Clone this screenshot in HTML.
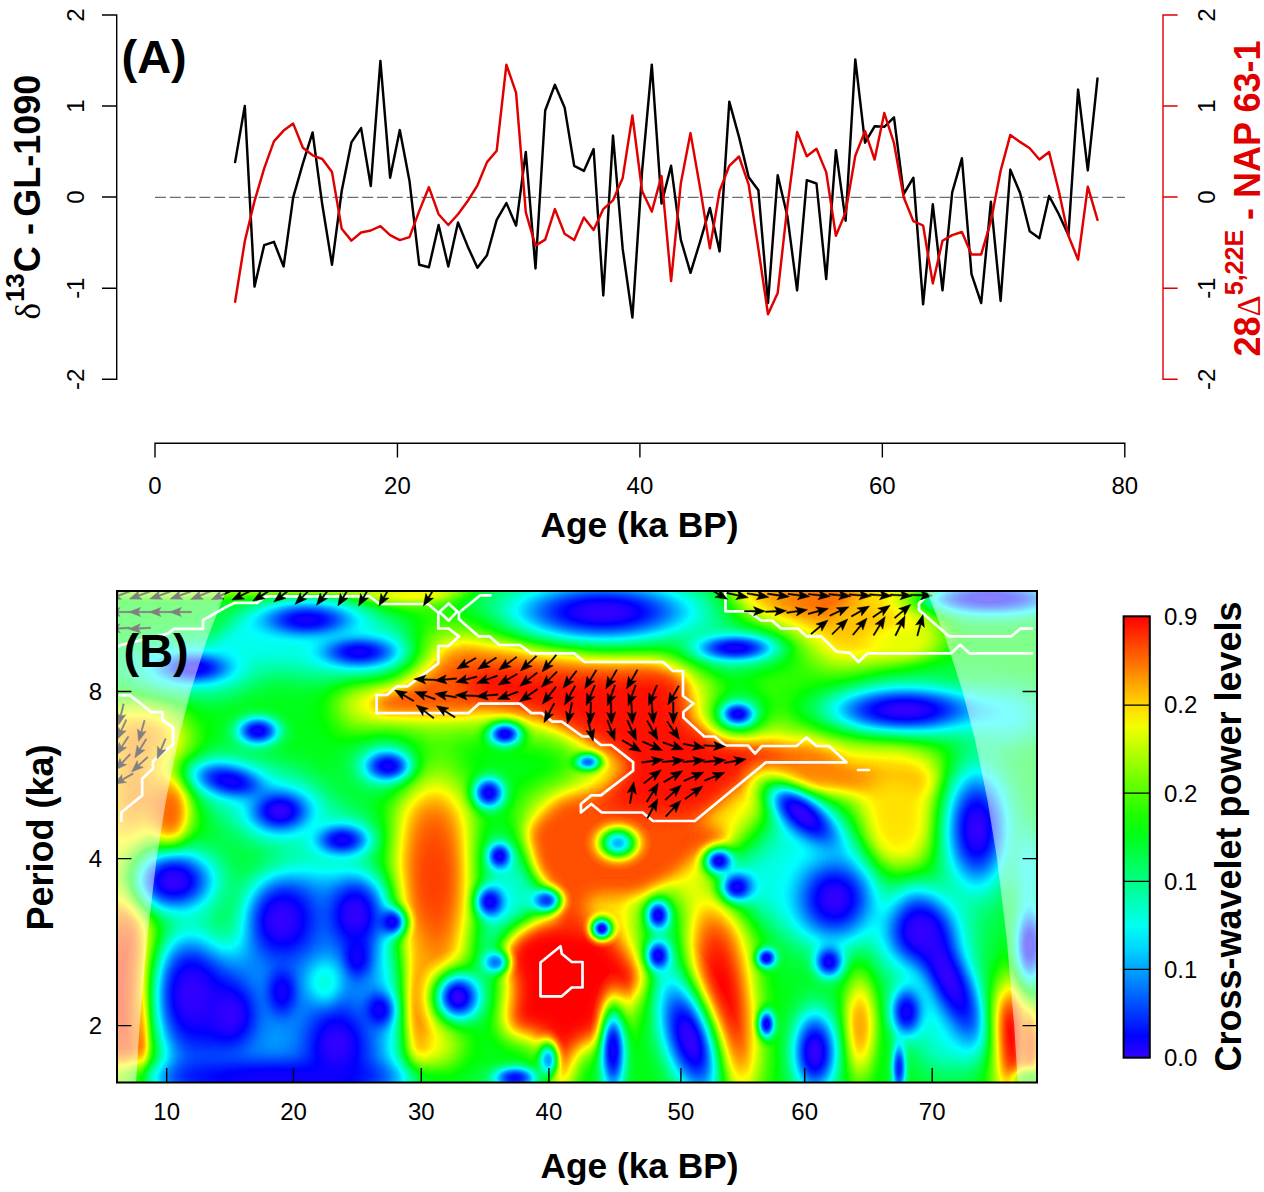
<!DOCTYPE html>
<html lang="en"><head><meta charset="utf-8"><title>Cross-wavelet figure</title>
<style>html,body{margin:0;padding:0;background:#fff}svg{display:block}text{font-family:"Liberation Sans", Arial, Helvetica, sans-serif}</style></head><body>
<svg width="1264" height="1192" viewBox="0 0 1264 1192">
<defs>
<filter id="cm" filterUnits="userSpaceOnUse" x="0" y="500" width="1264" height="692" color-interpolation-filters="sRGB"><feComponentTransfer><feFuncR type="table" tableValues="0.200 0.000 0.000 0.000 0.000 0.000 0.000 0.000 0.000 0.000 0.000 0.000 0.200 0.400 0.600 0.800 1.000 1.000 1.000 1.000 1.000 1.000"/><feFuncG type="table" tableValues="0.000 0.000 0.200 0.400 0.600 0.800 1.000 1.000 1.000 1.000 1.000 1.000 1.000 1.000 1.000 1.000 1.000 0.800 0.600 0.400 0.200 0.000"/><feFuncB type="table" tableValues="1.000 1.000 1.000 1.000 1.000 1.000 1.000 0.800 0.600 0.400 0.200 0.000 0.000 0.000 0.000 0.000 0.000 0.000 0.000 0.000 0.000 0.000"/></feComponentTransfer></filter>
<filter id="b4" filterUnits="userSpaceOnUse" x="0" y="500" width="1264" height="692" color-interpolation-filters="sRGB"><feGaussianBlur stdDeviation="4"/></filter>
<filter id="b6" filterUnits="userSpaceOnUse" x="0" y="500" width="1264" height="692" color-interpolation-filters="sRGB"><feGaussianBlur stdDeviation="6"/></filter>
<filter id="b8" filterUnits="userSpaceOnUse" x="0" y="500" width="1264" height="692" color-interpolation-filters="sRGB"><feGaussianBlur stdDeviation="8"/></filter>
<filter id="b11" filterUnits="userSpaceOnUse" x="0" y="500" width="1264" height="692" color-interpolation-filters="sRGB"><feGaussianBlur stdDeviation="11"/></filter>
<filter id="b16" filterUnits="userSpaceOnUse" x="0" y="500" width="1264" height="692" color-interpolation-filters="sRGB"><feGaussianBlur stdDeviation="16"/></filter>
<clipPath id="pc"><rect x="117" y="591" width="920" height="491.5"/></clipPath>
<linearGradient id="cb" x1="0" y1="0" x2="0" y2="1"><stop offset="0.000" stop-color="#ff0000"/><stop offset="0.050" stop-color="#ff3600"/><stop offset="0.100" stop-color="#ff6b00"/><stop offset="0.150" stop-color="#ffa100"/><stop offset="0.200" stop-color="#ffd600"/><stop offset="0.250" stop-color="#f2ff00"/><stop offset="0.300" stop-color="#bdff00"/><stop offset="0.350" stop-color="#87ff00"/><stop offset="0.400" stop-color="#52ff00"/><stop offset="0.450" stop-color="#1cff00"/><stop offset="0.500" stop-color="#00ff19"/><stop offset="0.550" stop-color="#00ff4f"/><stop offset="0.600" stop-color="#00ff85"/><stop offset="0.650" stop-color="#00ffba"/><stop offset="0.700" stop-color="#00fff0"/><stop offset="0.750" stop-color="#00d9ff"/><stop offset="0.800" stop-color="#00a3ff"/><stop offset="0.850" stop-color="#006eff"/><stop offset="0.900" stop-color="#0038ff"/><stop offset="0.950" stop-color="#0003ff"/><stop offset="1.000" stop-color="#3300ff"/></linearGradient>
</defs>
<rect width="1264" height="1192" fill="#fff"/>
<g fill="none" stroke="#000" stroke-width="1.4">
<path d="M102 15H116.7V379.3H102M102 106H116.7M102 197H116.7M102 288.2H116.7"/>
<path d="M155 457.6V443.2H1124.8V457.6M397.45 443.2V457.6M639.9 443.2V457.6M882.35 443.2V457.6"/>
</g>
<path d="M1177.6 15H1163V379.3H1177.6M1163 106H1177.6M1163 197H1177.6M1163 288.2H1177.6" fill="none" stroke="#e00000" stroke-width="1.4"/>
<path d="M155 197.4H1125" stroke="#6e6e6e" stroke-width="1.3" stroke-dasharray="11 3.8" fill="none"/>
<polyline fill="none" stroke="#000" stroke-width="2.45" stroke-linejoin="round" stroke-linecap="round" points="235.1,162.1 244.8,105.9 254.5,286.6 264.2,245.1 273.9,241.8 283.6,266.5 293.2,197.3 302.9,163.3 312.6,132.4 322.3,204.8 332.0,264.7 341.7,191.0 351.4,142.4 361.1,128.1 370.8,186.0 380.4,60.9 390.1,177.7 399.8,130.1 409.5,180.9 419.2,264.7 428.9,267.3 438.6,225.0 448.3,266.5 458.0,222.5 467.7,246.4 477.4,267.8 487.0,255.2 496.7,219.9 506.4,203.1 516.1,225.7 525.8,152.0 535.5,268.5 545.2,110.5 554.9,84.8 564.6,107.4 574.2,165.8 583.9,170.9 593.6,149.0 603.3,295.5 613.0,135.6 622.7,248.9 632.4,317.6 642.1,170.9 651.8,64.7 661.5,203.6 671.1,165.8 680.8,239.6 690.5,272.8 700.2,241.3 709.9,207.9 719.6,251.4 729.3,101.7 739.0,136.9 748.7,177.2 758.4,190.3 768.0,303.0 777.7,175.2 787.4,216.2 797.1,290.4 806.8,180.2 816.5,183.5 826.2,279.1 835.9,150.2 845.6,220.7 855.3,59.4 865.0,142.7 874.6,126.3 884.3,126.8 894.0,117.3 903.7,194.0 913.4,177.7 923.1,304.3 932.8,204.3 942.5,290.4 952.2,192.3 961.9,158.3 971.5,274.1 981.2,303.0 990.9,201.8 1000.6,301.0 1010.3,169.6 1020.0,192.8 1029.7,231.3 1039.4,238.3 1049.1,196.0 1058.8,214.2 1068.4,235.1 1078.1,89.6 1087.8,170.4 1097.5,78.5"/>
<polyline fill="none" stroke="#e00000" stroke-width="2.45" stroke-linejoin="round" stroke-linecap="round" points="235.1,301.7 244.8,241.3 254.5,201.1 264.2,168.4 273.9,141.4 283.6,130.6 293.2,123.6 302.9,147.7 312.6,155.3 322.3,159.0 332.0,172.1 341.7,228.8 351.4,240.6 361.1,232.5 370.8,230.5 380.4,226.2 390.1,235.1 399.8,240.1 409.5,237.1 419.2,211.1 428.9,187.2 438.6,214.2 448.3,225.0 458.0,214.2 467.7,201.1 477.4,185.5 487.0,162.1 496.7,150.7 506.4,64.7 516.1,92.9 525.8,212.4 535.5,245.6 545.2,239.6 554.9,209.1 564.6,233.8 574.2,240.1 583.9,217.4 593.6,230.0 603.3,209.1 613.0,200.3 622.7,177.9 632.4,115.5 642.1,191.0 651.8,211.6 661.5,175.9 671.1,281.1 680.8,183.5 690.5,133.1 700.2,188.5 709.9,248.4 719.6,191.0 729.3,165.8 739.0,156.5 748.7,184.7 758.4,248.9 768.0,314.3 777.7,292.9 787.4,206.1 797.1,131.9 806.8,156.3 816.5,148.7 826.2,172.1 835.9,235.8 845.6,212.4 855.3,155.8 865.0,131.1 874.6,159.5 884.3,113.0 894.0,143.2 903.7,197.3 913.4,221.2 923.1,225.5 932.8,283.4 942.5,240.8 952.2,235.1 961.9,232.0 971.5,254.4 981.2,254.4 990.9,221.2 1000.6,170.9 1010.3,134.9 1020.0,141.9 1029.7,148.2 1039.4,159.5 1049.1,152.0 1058.8,191.0 1068.4,235.8 1078.1,259.7 1087.8,186.7 1097.5,219.9"/>
<g font-size="24" fill="#000" text-anchor="middle">
<text transform="translate(83.5 15) rotate(-90)">2</text>
<text transform="translate(1214.5 15) rotate(-90)">2</text>
<text transform="translate(83.5 106) rotate(-90)">1</text>
<text transform="translate(1214.5 106) rotate(-90)">1</text>
<text transform="translate(83.5 197) rotate(-90)">0</text>
<text transform="translate(1214.5 197) rotate(-90)">0</text>
<text transform="translate(83.5 288.2) rotate(-90)">-1</text>
<text transform="translate(1214.5 288.2) rotate(-90)">-1</text>
<text transform="translate(83.5 379.3) rotate(-90)">-2</text>
<text transform="translate(1214.5 379.3) rotate(-90)">-2</text>
<text x="155" y="494.4">0</text>
<text x="397.45" y="494.4">20</text>
<text x="639.9" y="494.4">40</text>
<text x="882.35" y="494.4">60</text>
<text x="1124.8" y="494.4">80</text>
</g>
<g font-weight="bold" fill="#000">
<text x="121.5" y="72.7" font-size="47">(A)</text>
<text x="639.5" y="536.8" font-size="35" text-anchor="middle" textLength="198" lengthAdjust="spacingAndGlyphs">Age (ka BP)</text>
<text x="639.5" y="1177.7" font-size="35" text-anchor="middle" textLength="198" lengthAdjust="spacingAndGlyphs">Age (ka BP)</text>
<text transform="translate(39.5 319.6) rotate(-90)" font-size="36"><tspan font-weight="normal" font-size="35" font-family="Liberation Serif, DejaVu Serif, serif">δ</tspan><tspan dy="-16" dx="1" font-size="26">13</tspan><tspan dy="16" dx="1">C</tspan></text>
<text transform="translate(39.5 229) rotate(-90)" font-size="36" text-anchor="middle">-</text>
<text transform="translate(39.5 74.6) rotate(-90)" font-size="36" text-anchor="end">GL-1090</text>
<text transform="translate(52.5 837.5) rotate(-90)" font-size="36" text-anchor="middle">Period (ka)</text>
<text transform="translate(1241 836.5) rotate(-90)" font-size="36" text-anchor="middle">Cross-wavelet power levels</text>
</g>
<text transform="translate(1260 198.5) rotate(-90)" font-size="36" font-weight="bold" fill="#e00000" text-anchor="middle">28<tspan font-weight="normal" font-size="33" font-family="Liberation Serif, DejaVu Serif, serif">Δ</tspan><tspan dy="-17.5" font-size="25">5,22E</tspan><tspan dy="17.5"> - NAP 63-1</tspan></text>
<g clip-path="url(#pc)">
<g filter="url(#cm)">
<defs><radialGradient id="rg0" cx="0.5" cy="0.5" r="0.5"><stop offset="0.00" stop-color="#4c4c4c" stop-opacity="1.000"/><stop offset="0.05" stop-color="#4c4c4c" stop-opacity="0.997"/><stop offset="0.10" stop-color="#4c4c4c" stop-opacity="0.986"/><stop offset="0.15" stop-color="#4c4c4c" stop-opacity="0.961"/><stop offset="0.20" stop-color="#4c4c4c" stop-opacity="0.921"/><stop offset="0.25" stop-color="#4c4c4c" stop-opacity="0.866"/><stop offset="0.30" stop-color="#4c4c4c" stop-opacity="0.797"/><stop offset="0.35" stop-color="#4c4c4c" stop-opacity="0.716"/><stop offset="0.40" stop-color="#4c4c4c" stop-opacity="0.628"/><stop offset="0.45" stop-color="#4c4c4c" stop-opacity="0.535"/><stop offset="0.50" stop-color="#4c4c4c" stop-opacity="0.443"/><stop offset="0.55" stop-color="#4c4c4c" stop-opacity="0.356"/><stop offset="0.60" stop-color="#4c4c4c" stop-opacity="0.277"/><stop offset="0.65" stop-color="#4c4c4c" stop-opacity="0.208"/><stop offset="0.70" stop-color="#4c4c4c" stop-opacity="0.151"/><stop offset="0.75" stop-color="#4c4c4c" stop-opacity="0.106"/><stop offset="0.80" stop-color="#4c4c4c" stop-opacity="0.072"/><stop offset="0.85" stop-color="#4c4c4c" stop-opacity="0.047"/><stop offset="0.90" stop-color="#4c4c4c" stop-opacity="0.029"/><stop offset="0.95" stop-color="#4c4c4c" stop-opacity="0.017"/><stop offset="1.00" stop-color="#4c4c4c" stop-opacity="0.000"/></radialGradient><radialGradient id="rg1" cx="0.5" cy="0.5" r="0.5"><stop offset="0.00" stop-color="#474747" stop-opacity="1.000"/><stop offset="0.05" stop-color="#474747" stop-opacity="0.997"/><stop offset="0.10" stop-color="#474747" stop-opacity="0.986"/><stop offset="0.15" stop-color="#474747" stop-opacity="0.961"/><stop offset="0.20" stop-color="#474747" stop-opacity="0.921"/><stop offset="0.25" stop-color="#474747" stop-opacity="0.866"/><stop offset="0.30" stop-color="#474747" stop-opacity="0.797"/><stop offset="0.35" stop-color="#474747" stop-opacity="0.716"/><stop offset="0.40" stop-color="#474747" stop-opacity="0.628"/><stop offset="0.45" stop-color="#474747" stop-opacity="0.535"/><stop offset="0.50" stop-color="#474747" stop-opacity="0.443"/><stop offset="0.55" stop-color="#474747" stop-opacity="0.356"/><stop offset="0.60" stop-color="#474747" stop-opacity="0.277"/><stop offset="0.65" stop-color="#474747" stop-opacity="0.208"/><stop offset="0.70" stop-color="#474747" stop-opacity="0.151"/><stop offset="0.75" stop-color="#474747" stop-opacity="0.106"/><stop offset="0.80" stop-color="#474747" stop-opacity="0.072"/><stop offset="0.85" stop-color="#474747" stop-opacity="0.047"/><stop offset="0.90" stop-color="#474747" stop-opacity="0.029"/><stop offset="0.95" stop-color="#474747" stop-opacity="0.017"/><stop offset="1.00" stop-color="#474747" stop-opacity="0.000"/></radialGradient><radialGradient id="rg2" cx="0.5" cy="0.5" r="0.5"><stop offset="0.00" stop-color="#f0f0f0" stop-opacity="1.000"/><stop offset="0.05" stop-color="#f0f0f0" stop-opacity="0.997"/><stop offset="0.10" stop-color="#f0f0f0" stop-opacity="0.986"/><stop offset="0.15" stop-color="#f0f0f0" stop-opacity="0.961"/><stop offset="0.20" stop-color="#f0f0f0" stop-opacity="0.921"/><stop offset="0.25" stop-color="#f0f0f0" stop-opacity="0.866"/><stop offset="0.30" stop-color="#f0f0f0" stop-opacity="0.797"/><stop offset="0.35" stop-color="#f0f0f0" stop-opacity="0.716"/><stop offset="0.40" stop-color="#f0f0f0" stop-opacity="0.628"/><stop offset="0.45" stop-color="#f0f0f0" stop-opacity="0.535"/><stop offset="0.50" stop-color="#f0f0f0" stop-opacity="0.443"/><stop offset="0.55" stop-color="#f0f0f0" stop-opacity="0.356"/><stop offset="0.60" stop-color="#f0f0f0" stop-opacity="0.277"/><stop offset="0.65" stop-color="#f0f0f0" stop-opacity="0.208"/><stop offset="0.70" stop-color="#f0f0f0" stop-opacity="0.151"/><stop offset="0.75" stop-color="#f0f0f0" stop-opacity="0.106"/><stop offset="0.80" stop-color="#f0f0f0" stop-opacity="0.072"/><stop offset="0.85" stop-color="#f0f0f0" stop-opacity="0.047"/><stop offset="0.90" stop-color="#f0f0f0" stop-opacity="0.029"/><stop offset="0.95" stop-color="#f0f0f0" stop-opacity="0.017"/><stop offset="1.00" stop-color="#f0f0f0" stop-opacity="0.000"/></radialGradient><radialGradient id="rg3" cx="0.5" cy="0.5" r="0.5"><stop offset="0.00" stop-color="#dbdbdb" stop-opacity="1.000"/><stop offset="0.05" stop-color="#dbdbdb" stop-opacity="0.997"/><stop offset="0.10" stop-color="#dbdbdb" stop-opacity="0.986"/><stop offset="0.15" stop-color="#dbdbdb" stop-opacity="0.961"/><stop offset="0.20" stop-color="#dbdbdb" stop-opacity="0.921"/><stop offset="0.25" stop-color="#dbdbdb" stop-opacity="0.866"/><stop offset="0.30" stop-color="#dbdbdb" stop-opacity="0.797"/><stop offset="0.35" stop-color="#dbdbdb" stop-opacity="0.716"/><stop offset="0.40" stop-color="#dbdbdb" stop-opacity="0.628"/><stop offset="0.45" stop-color="#dbdbdb" stop-opacity="0.535"/><stop offset="0.50" stop-color="#dbdbdb" stop-opacity="0.443"/><stop offset="0.55" stop-color="#dbdbdb" stop-opacity="0.356"/><stop offset="0.60" stop-color="#dbdbdb" stop-opacity="0.277"/><stop offset="0.65" stop-color="#dbdbdb" stop-opacity="0.208"/><stop offset="0.70" stop-color="#dbdbdb" stop-opacity="0.151"/><stop offset="0.75" stop-color="#dbdbdb" stop-opacity="0.106"/><stop offset="0.80" stop-color="#dbdbdb" stop-opacity="0.072"/><stop offset="0.85" stop-color="#dbdbdb" stop-opacity="0.047"/><stop offset="0.90" stop-color="#dbdbdb" stop-opacity="0.029"/><stop offset="0.95" stop-color="#dbdbdb" stop-opacity="0.017"/><stop offset="1.00" stop-color="#dbdbdb" stop-opacity="0.000"/></radialGradient><radialGradient id="rg4" cx="0.5" cy="0.5" r="0.5"><stop offset="0.00" stop-color="#ffffff" stop-opacity="1.000"/><stop offset="0.05" stop-color="#ffffff" stop-opacity="0.997"/><stop offset="0.10" stop-color="#ffffff" stop-opacity="0.986"/><stop offset="0.15" stop-color="#ffffff" stop-opacity="0.961"/><stop offset="0.20" stop-color="#ffffff" stop-opacity="0.921"/><stop offset="0.25" stop-color="#ffffff" stop-opacity="0.866"/><stop offset="0.30" stop-color="#ffffff" stop-opacity="0.797"/><stop offset="0.35" stop-color="#ffffff" stop-opacity="0.716"/><stop offset="0.40" stop-color="#ffffff" stop-opacity="0.628"/><stop offset="0.45" stop-color="#ffffff" stop-opacity="0.535"/><stop offset="0.50" stop-color="#ffffff" stop-opacity="0.443"/><stop offset="0.55" stop-color="#ffffff" stop-opacity="0.356"/><stop offset="0.60" stop-color="#ffffff" stop-opacity="0.277"/><stop offset="0.65" stop-color="#ffffff" stop-opacity="0.208"/><stop offset="0.70" stop-color="#ffffff" stop-opacity="0.151"/><stop offset="0.75" stop-color="#ffffff" stop-opacity="0.106"/><stop offset="0.80" stop-color="#ffffff" stop-opacity="0.072"/><stop offset="0.85" stop-color="#ffffff" stop-opacity="0.047"/><stop offset="0.90" stop-color="#ffffff" stop-opacity="0.029"/><stop offset="0.95" stop-color="#ffffff" stop-opacity="0.017"/><stop offset="1.00" stop-color="#ffffff" stop-opacity="0.000"/></radialGradient><radialGradient id="rg5" cx="0.5" cy="0.5" r="0.5"><stop offset="0.00" stop-color="#d6d6d6" stop-opacity="1.000"/><stop offset="0.05" stop-color="#d6d6d6" stop-opacity="0.997"/><stop offset="0.10" stop-color="#d6d6d6" stop-opacity="0.986"/><stop offset="0.15" stop-color="#d6d6d6" stop-opacity="0.961"/><stop offset="0.20" stop-color="#d6d6d6" stop-opacity="0.921"/><stop offset="0.25" stop-color="#d6d6d6" stop-opacity="0.866"/><stop offset="0.30" stop-color="#d6d6d6" stop-opacity="0.797"/><stop offset="0.35" stop-color="#d6d6d6" stop-opacity="0.716"/><stop offset="0.40" stop-color="#d6d6d6" stop-opacity="0.628"/><stop offset="0.45" stop-color="#d6d6d6" stop-opacity="0.535"/><stop offset="0.50" stop-color="#d6d6d6" stop-opacity="0.443"/><stop offset="0.55" stop-color="#d6d6d6" stop-opacity="0.356"/><stop offset="0.60" stop-color="#d6d6d6" stop-opacity="0.277"/><stop offset="0.65" stop-color="#d6d6d6" stop-opacity="0.208"/><stop offset="0.70" stop-color="#d6d6d6" stop-opacity="0.151"/><stop offset="0.75" stop-color="#d6d6d6" stop-opacity="0.106"/><stop offset="0.80" stop-color="#d6d6d6" stop-opacity="0.072"/><stop offset="0.85" stop-color="#d6d6d6" stop-opacity="0.047"/><stop offset="0.90" stop-color="#d6d6d6" stop-opacity="0.029"/><stop offset="0.95" stop-color="#d6d6d6" stop-opacity="0.017"/><stop offset="1.00" stop-color="#d6d6d6" stop-opacity="0.000"/></radialGradient><radialGradient id="rg6" cx="0.5" cy="0.5" r="0.5"><stop offset="0.00" stop-color="#b8b8b8" stop-opacity="1.000"/><stop offset="0.05" stop-color="#b8b8b8" stop-opacity="0.997"/><stop offset="0.10" stop-color="#b8b8b8" stop-opacity="0.986"/><stop offset="0.15" stop-color="#b8b8b8" stop-opacity="0.961"/><stop offset="0.20" stop-color="#b8b8b8" stop-opacity="0.921"/><stop offset="0.25" stop-color="#b8b8b8" stop-opacity="0.866"/><stop offset="0.30" stop-color="#b8b8b8" stop-opacity="0.797"/><stop offset="0.35" stop-color="#b8b8b8" stop-opacity="0.716"/><stop offset="0.40" stop-color="#b8b8b8" stop-opacity="0.628"/><stop offset="0.45" stop-color="#b8b8b8" stop-opacity="0.535"/><stop offset="0.50" stop-color="#b8b8b8" stop-opacity="0.443"/><stop offset="0.55" stop-color="#b8b8b8" stop-opacity="0.356"/><stop offset="0.60" stop-color="#b8b8b8" stop-opacity="0.277"/><stop offset="0.65" stop-color="#b8b8b8" stop-opacity="0.208"/><stop offset="0.70" stop-color="#b8b8b8" stop-opacity="0.151"/><stop offset="0.75" stop-color="#b8b8b8" stop-opacity="0.106"/><stop offset="0.80" stop-color="#b8b8b8" stop-opacity="0.072"/><stop offset="0.85" stop-color="#b8b8b8" stop-opacity="0.047"/><stop offset="0.90" stop-color="#b8b8b8" stop-opacity="0.029"/><stop offset="0.95" stop-color="#b8b8b8" stop-opacity="0.017"/><stop offset="1.00" stop-color="#b8b8b8" stop-opacity="0.000"/></radialGradient><radialGradient id="rg7" cx="0.5" cy="0.5" r="0.5"><stop offset="0.00" stop-color="#e6e6e6" stop-opacity="1.000"/><stop offset="0.05" stop-color="#e6e6e6" stop-opacity="0.997"/><stop offset="0.10" stop-color="#e6e6e6" stop-opacity="0.986"/><stop offset="0.15" stop-color="#e6e6e6" stop-opacity="0.961"/><stop offset="0.20" stop-color="#e6e6e6" stop-opacity="0.921"/><stop offset="0.25" stop-color="#e6e6e6" stop-opacity="0.866"/><stop offset="0.30" stop-color="#e6e6e6" stop-opacity="0.797"/><stop offset="0.35" stop-color="#e6e6e6" stop-opacity="0.716"/><stop offset="0.40" stop-color="#e6e6e6" stop-opacity="0.628"/><stop offset="0.45" stop-color="#e6e6e6" stop-opacity="0.535"/><stop offset="0.50" stop-color="#e6e6e6" stop-opacity="0.443"/><stop offset="0.55" stop-color="#e6e6e6" stop-opacity="0.356"/><stop offset="0.60" stop-color="#e6e6e6" stop-opacity="0.277"/><stop offset="0.65" stop-color="#e6e6e6" stop-opacity="0.208"/><stop offset="0.70" stop-color="#e6e6e6" stop-opacity="0.151"/><stop offset="0.75" stop-color="#e6e6e6" stop-opacity="0.106"/><stop offset="0.80" stop-color="#e6e6e6" stop-opacity="0.072"/><stop offset="0.85" stop-color="#e6e6e6" stop-opacity="0.047"/><stop offset="0.90" stop-color="#e6e6e6" stop-opacity="0.029"/><stop offset="0.95" stop-color="#e6e6e6" stop-opacity="0.017"/><stop offset="1.00" stop-color="#e6e6e6" stop-opacity="0.000"/></radialGradient><radialGradient id="rg8" cx="0.5" cy="0.5" r="0.5"><stop offset="0.00" stop-color="#c9c9c9" stop-opacity="1.000"/><stop offset="0.05" stop-color="#c9c9c9" stop-opacity="0.997"/><stop offset="0.10" stop-color="#c9c9c9" stop-opacity="0.986"/><stop offset="0.15" stop-color="#c9c9c9" stop-opacity="0.961"/><stop offset="0.20" stop-color="#c9c9c9" stop-opacity="0.921"/><stop offset="0.25" stop-color="#c9c9c9" stop-opacity="0.866"/><stop offset="0.30" stop-color="#c9c9c9" stop-opacity="0.797"/><stop offset="0.35" stop-color="#c9c9c9" stop-opacity="0.716"/><stop offset="0.40" stop-color="#c9c9c9" stop-opacity="0.628"/><stop offset="0.45" stop-color="#c9c9c9" stop-opacity="0.535"/><stop offset="0.50" stop-color="#c9c9c9" stop-opacity="0.443"/><stop offset="0.55" stop-color="#c9c9c9" stop-opacity="0.356"/><stop offset="0.60" stop-color="#c9c9c9" stop-opacity="0.277"/><stop offset="0.65" stop-color="#c9c9c9" stop-opacity="0.208"/><stop offset="0.70" stop-color="#c9c9c9" stop-opacity="0.151"/><stop offset="0.75" stop-color="#c9c9c9" stop-opacity="0.106"/><stop offset="0.80" stop-color="#c9c9c9" stop-opacity="0.072"/><stop offset="0.85" stop-color="#c9c9c9" stop-opacity="0.047"/><stop offset="0.90" stop-color="#c9c9c9" stop-opacity="0.029"/><stop offset="0.95" stop-color="#c9c9c9" stop-opacity="0.017"/><stop offset="1.00" stop-color="#c9c9c9" stop-opacity="0.000"/></radialGradient><radialGradient id="rg9" cx="0.5" cy="0.5" r="0.5"><stop offset="0.00" stop-color="#f2f2f2" stop-opacity="1.000"/><stop offset="0.05" stop-color="#f2f2f2" stop-opacity="0.997"/><stop offset="0.10" stop-color="#f2f2f2" stop-opacity="0.986"/><stop offset="0.15" stop-color="#f2f2f2" stop-opacity="0.961"/><stop offset="0.20" stop-color="#f2f2f2" stop-opacity="0.921"/><stop offset="0.25" stop-color="#f2f2f2" stop-opacity="0.866"/><stop offset="0.30" stop-color="#f2f2f2" stop-opacity="0.797"/><stop offset="0.35" stop-color="#f2f2f2" stop-opacity="0.716"/><stop offset="0.40" stop-color="#f2f2f2" stop-opacity="0.628"/><stop offset="0.45" stop-color="#f2f2f2" stop-opacity="0.535"/><stop offset="0.50" stop-color="#f2f2f2" stop-opacity="0.443"/><stop offset="0.55" stop-color="#f2f2f2" stop-opacity="0.356"/><stop offset="0.60" stop-color="#f2f2f2" stop-opacity="0.277"/><stop offset="0.65" stop-color="#f2f2f2" stop-opacity="0.208"/><stop offset="0.70" stop-color="#f2f2f2" stop-opacity="0.151"/><stop offset="0.75" stop-color="#f2f2f2" stop-opacity="0.106"/><stop offset="0.80" stop-color="#f2f2f2" stop-opacity="0.072"/><stop offset="0.85" stop-color="#f2f2f2" stop-opacity="0.047"/><stop offset="0.90" stop-color="#f2f2f2" stop-opacity="0.029"/><stop offset="0.95" stop-color="#f2f2f2" stop-opacity="0.017"/><stop offset="1.00" stop-color="#f2f2f2" stop-opacity="0.000"/></radialGradient><radialGradient id="rg10" cx="0.5" cy="0.5" r="0.5"><stop offset="0.00" stop-color="#ededed" stop-opacity="1.000"/><stop offset="0.05" stop-color="#ededed" stop-opacity="0.997"/><stop offset="0.10" stop-color="#ededed" stop-opacity="0.986"/><stop offset="0.15" stop-color="#ededed" stop-opacity="0.961"/><stop offset="0.20" stop-color="#ededed" stop-opacity="0.921"/><stop offset="0.25" stop-color="#ededed" stop-opacity="0.866"/><stop offset="0.30" stop-color="#ededed" stop-opacity="0.797"/><stop offset="0.35" stop-color="#ededed" stop-opacity="0.716"/><stop offset="0.40" stop-color="#ededed" stop-opacity="0.628"/><stop offset="0.45" stop-color="#ededed" stop-opacity="0.535"/><stop offset="0.50" stop-color="#ededed" stop-opacity="0.443"/><stop offset="0.55" stop-color="#ededed" stop-opacity="0.356"/><stop offset="0.60" stop-color="#ededed" stop-opacity="0.277"/><stop offset="0.65" stop-color="#ededed" stop-opacity="0.208"/><stop offset="0.70" stop-color="#ededed" stop-opacity="0.151"/><stop offset="0.75" stop-color="#ededed" stop-opacity="0.106"/><stop offset="0.80" stop-color="#ededed" stop-opacity="0.072"/><stop offset="0.85" stop-color="#ededed" stop-opacity="0.047"/><stop offset="0.90" stop-color="#ededed" stop-opacity="0.029"/><stop offset="0.95" stop-color="#ededed" stop-opacity="0.017"/><stop offset="1.00" stop-color="#ededed" stop-opacity="0.000"/></radialGradient><radialGradient id="rg11" cx="0.5" cy="0.5" r="0.5"><stop offset="0.00" stop-color="#adadad" stop-opacity="1.000"/><stop offset="0.05" stop-color="#adadad" stop-opacity="0.997"/><stop offset="0.10" stop-color="#adadad" stop-opacity="0.986"/><stop offset="0.15" stop-color="#adadad" stop-opacity="0.961"/><stop offset="0.20" stop-color="#adadad" stop-opacity="0.921"/><stop offset="0.25" stop-color="#adadad" stop-opacity="0.866"/><stop offset="0.30" stop-color="#adadad" stop-opacity="0.797"/><stop offset="0.35" stop-color="#adadad" stop-opacity="0.716"/><stop offset="0.40" stop-color="#adadad" stop-opacity="0.628"/><stop offset="0.45" stop-color="#adadad" stop-opacity="0.535"/><stop offset="0.50" stop-color="#adadad" stop-opacity="0.443"/><stop offset="0.55" stop-color="#adadad" stop-opacity="0.356"/><stop offset="0.60" stop-color="#adadad" stop-opacity="0.277"/><stop offset="0.65" stop-color="#adadad" stop-opacity="0.208"/><stop offset="0.70" stop-color="#adadad" stop-opacity="0.151"/><stop offset="0.75" stop-color="#adadad" stop-opacity="0.106"/><stop offset="0.80" stop-color="#adadad" stop-opacity="0.072"/><stop offset="0.85" stop-color="#adadad" stop-opacity="0.047"/><stop offset="0.90" stop-color="#adadad" stop-opacity="0.029"/><stop offset="0.95" stop-color="#adadad" stop-opacity="0.017"/><stop offset="1.00" stop-color="#adadad" stop-opacity="0.000"/></radialGradient><radialGradient id="rg12" cx="0.5" cy="0.5" r="0.5"><stop offset="0.00" stop-color="#bdbdbd" stop-opacity="1.000"/><stop offset="0.05" stop-color="#bdbdbd" stop-opacity="0.997"/><stop offset="0.10" stop-color="#bdbdbd" stop-opacity="0.986"/><stop offset="0.15" stop-color="#bdbdbd" stop-opacity="0.961"/><stop offset="0.20" stop-color="#bdbdbd" stop-opacity="0.921"/><stop offset="0.25" stop-color="#bdbdbd" stop-opacity="0.866"/><stop offset="0.30" stop-color="#bdbdbd" stop-opacity="0.797"/><stop offset="0.35" stop-color="#bdbdbd" stop-opacity="0.716"/><stop offset="0.40" stop-color="#bdbdbd" stop-opacity="0.628"/><stop offset="0.45" stop-color="#bdbdbd" stop-opacity="0.535"/><stop offset="0.50" stop-color="#bdbdbd" stop-opacity="0.443"/><stop offset="0.55" stop-color="#bdbdbd" stop-opacity="0.356"/><stop offset="0.60" stop-color="#bdbdbd" stop-opacity="0.277"/><stop offset="0.65" stop-color="#bdbdbd" stop-opacity="0.208"/><stop offset="0.70" stop-color="#bdbdbd" stop-opacity="0.151"/><stop offset="0.75" stop-color="#bdbdbd" stop-opacity="0.106"/><stop offset="0.80" stop-color="#bdbdbd" stop-opacity="0.072"/><stop offset="0.85" stop-color="#bdbdbd" stop-opacity="0.047"/><stop offset="0.90" stop-color="#bdbdbd" stop-opacity="0.029"/><stop offset="0.95" stop-color="#bdbdbd" stop-opacity="0.017"/><stop offset="1.00" stop-color="#bdbdbd" stop-opacity="0.000"/></radialGradient><radialGradient id="rg13" cx="0.5" cy="0.5" r="0.5"><stop offset="0.00" stop-color="#c7c7c7" stop-opacity="1.000"/><stop offset="0.05" stop-color="#c7c7c7" stop-opacity="0.997"/><stop offset="0.10" stop-color="#c7c7c7" stop-opacity="0.986"/><stop offset="0.15" stop-color="#c7c7c7" stop-opacity="0.961"/><stop offset="0.20" stop-color="#c7c7c7" stop-opacity="0.921"/><stop offset="0.25" stop-color="#c7c7c7" stop-opacity="0.866"/><stop offset="0.30" stop-color="#c7c7c7" stop-opacity="0.797"/><stop offset="0.35" stop-color="#c7c7c7" stop-opacity="0.716"/><stop offset="0.40" stop-color="#c7c7c7" stop-opacity="0.628"/><stop offset="0.45" stop-color="#c7c7c7" stop-opacity="0.535"/><stop offset="0.50" stop-color="#c7c7c7" stop-opacity="0.443"/><stop offset="0.55" stop-color="#c7c7c7" stop-opacity="0.356"/><stop offset="0.60" stop-color="#c7c7c7" stop-opacity="0.277"/><stop offset="0.65" stop-color="#c7c7c7" stop-opacity="0.208"/><stop offset="0.70" stop-color="#c7c7c7" stop-opacity="0.151"/><stop offset="0.75" stop-color="#c7c7c7" stop-opacity="0.106"/><stop offset="0.80" stop-color="#c7c7c7" stop-opacity="0.072"/><stop offset="0.85" stop-color="#c7c7c7" stop-opacity="0.047"/><stop offset="0.90" stop-color="#c7c7c7" stop-opacity="0.029"/><stop offset="0.95" stop-color="#c7c7c7" stop-opacity="0.017"/><stop offset="1.00" stop-color="#c7c7c7" stop-opacity="0.000"/></radialGradient><radialGradient id="rg14" cx="0.5" cy="0.5" r="0.5"><stop offset="0.00" stop-color="#b2b2b2" stop-opacity="1.000"/><stop offset="0.05" stop-color="#b2b2b2" stop-opacity="0.997"/><stop offset="0.10" stop-color="#b2b2b2" stop-opacity="0.986"/><stop offset="0.15" stop-color="#b2b2b2" stop-opacity="0.961"/><stop offset="0.20" stop-color="#b2b2b2" stop-opacity="0.921"/><stop offset="0.25" stop-color="#b2b2b2" stop-opacity="0.866"/><stop offset="0.30" stop-color="#b2b2b2" stop-opacity="0.797"/><stop offset="0.35" stop-color="#b2b2b2" stop-opacity="0.716"/><stop offset="0.40" stop-color="#b2b2b2" stop-opacity="0.628"/><stop offset="0.45" stop-color="#b2b2b2" stop-opacity="0.535"/><stop offset="0.50" stop-color="#b2b2b2" stop-opacity="0.443"/><stop offset="0.55" stop-color="#b2b2b2" stop-opacity="0.356"/><stop offset="0.60" stop-color="#b2b2b2" stop-opacity="0.277"/><stop offset="0.65" stop-color="#b2b2b2" stop-opacity="0.208"/><stop offset="0.70" stop-color="#b2b2b2" stop-opacity="0.151"/><stop offset="0.75" stop-color="#b2b2b2" stop-opacity="0.106"/><stop offset="0.80" stop-color="#b2b2b2" stop-opacity="0.072"/><stop offset="0.85" stop-color="#b2b2b2" stop-opacity="0.047"/><stop offset="0.90" stop-color="#b2b2b2" stop-opacity="0.029"/><stop offset="0.95" stop-color="#b2b2b2" stop-opacity="0.017"/><stop offset="1.00" stop-color="#b2b2b2" stop-opacity="0.000"/></radialGradient><radialGradient id="rg15" cx="0.5" cy="0.5" r="0.5"><stop offset="0.00" stop-color="#949494" stop-opacity="1.000"/><stop offset="0.05" stop-color="#949494" stop-opacity="0.997"/><stop offset="0.10" stop-color="#949494" stop-opacity="0.986"/><stop offset="0.15" stop-color="#949494" stop-opacity="0.961"/><stop offset="0.20" stop-color="#949494" stop-opacity="0.921"/><stop offset="0.25" stop-color="#949494" stop-opacity="0.866"/><stop offset="0.30" stop-color="#949494" stop-opacity="0.797"/><stop offset="0.35" stop-color="#949494" stop-opacity="0.716"/><stop offset="0.40" stop-color="#949494" stop-opacity="0.628"/><stop offset="0.45" stop-color="#949494" stop-opacity="0.535"/><stop offset="0.50" stop-color="#949494" stop-opacity="0.443"/><stop offset="0.55" stop-color="#949494" stop-opacity="0.356"/><stop offset="0.60" stop-color="#949494" stop-opacity="0.277"/><stop offset="0.65" stop-color="#949494" stop-opacity="0.208"/><stop offset="0.70" stop-color="#949494" stop-opacity="0.151"/><stop offset="0.75" stop-color="#949494" stop-opacity="0.106"/><stop offset="0.80" stop-color="#949494" stop-opacity="0.072"/><stop offset="0.85" stop-color="#949494" stop-opacity="0.047"/><stop offset="0.90" stop-color="#949494" stop-opacity="0.029"/><stop offset="0.95" stop-color="#949494" stop-opacity="0.017"/><stop offset="1.00" stop-color="#949494" stop-opacity="0.000"/></radialGradient><radialGradient id="rg16" cx="0.5" cy="0.5" r="0.5"><stop offset="0.00" stop-color="#080808" stop-opacity="1.000"/><stop offset="0.05" stop-color="#080808" stop-opacity="0.997"/><stop offset="0.10" stop-color="#080808" stop-opacity="0.986"/><stop offset="0.15" stop-color="#080808" stop-opacity="0.961"/><stop offset="0.20" stop-color="#080808" stop-opacity="0.921"/><stop offset="0.25" stop-color="#080808" stop-opacity="0.866"/><stop offset="0.30" stop-color="#080808" stop-opacity="0.797"/><stop offset="0.35" stop-color="#080808" stop-opacity="0.716"/><stop offset="0.40" stop-color="#080808" stop-opacity="0.628"/><stop offset="0.45" stop-color="#080808" stop-opacity="0.535"/><stop offset="0.50" stop-color="#080808" stop-opacity="0.443"/><stop offset="0.55" stop-color="#080808" stop-opacity="0.356"/><stop offset="0.60" stop-color="#080808" stop-opacity="0.277"/><stop offset="0.65" stop-color="#080808" stop-opacity="0.208"/><stop offset="0.70" stop-color="#080808" stop-opacity="0.151"/><stop offset="0.75" stop-color="#080808" stop-opacity="0.106"/><stop offset="0.80" stop-color="#080808" stop-opacity="0.072"/><stop offset="0.85" stop-color="#080808" stop-opacity="0.047"/><stop offset="0.90" stop-color="#080808" stop-opacity="0.029"/><stop offset="0.95" stop-color="#080808" stop-opacity="0.017"/><stop offset="1.00" stop-color="#080808" stop-opacity="0.000"/></radialGradient><radialGradient id="rg17" cx="0.5" cy="0.5" r="0.5"><stop offset="0.00" stop-color="#545454" stop-opacity="1.000"/><stop offset="0.05" stop-color="#545454" stop-opacity="0.997"/><stop offset="0.10" stop-color="#545454" stop-opacity="0.986"/><stop offset="0.15" stop-color="#545454" stop-opacity="0.961"/><stop offset="0.20" stop-color="#545454" stop-opacity="0.921"/><stop offset="0.25" stop-color="#545454" stop-opacity="0.866"/><stop offset="0.30" stop-color="#545454" stop-opacity="0.797"/><stop offset="0.35" stop-color="#545454" stop-opacity="0.716"/><stop offset="0.40" stop-color="#545454" stop-opacity="0.628"/><stop offset="0.45" stop-color="#545454" stop-opacity="0.535"/><stop offset="0.50" stop-color="#545454" stop-opacity="0.443"/><stop offset="0.55" stop-color="#545454" stop-opacity="0.356"/><stop offset="0.60" stop-color="#545454" stop-opacity="0.277"/><stop offset="0.65" stop-color="#545454" stop-opacity="0.208"/><stop offset="0.70" stop-color="#545454" stop-opacity="0.151"/><stop offset="0.75" stop-color="#545454" stop-opacity="0.106"/><stop offset="0.80" stop-color="#545454" stop-opacity="0.072"/><stop offset="0.85" stop-color="#545454" stop-opacity="0.047"/><stop offset="0.90" stop-color="#545454" stop-opacity="0.029"/><stop offset="0.95" stop-color="#545454" stop-opacity="0.017"/><stop offset="1.00" stop-color="#545454" stop-opacity="0.000"/></radialGradient><radialGradient id="rg18" cx="0.5" cy="0.5" r="0.5"><stop offset="0.00" stop-color="#000000" stop-opacity="1.000"/><stop offset="0.05" stop-color="#000000" stop-opacity="0.997"/><stop offset="0.10" stop-color="#000000" stop-opacity="0.986"/><stop offset="0.15" stop-color="#000000" stop-opacity="0.961"/><stop offset="0.20" stop-color="#000000" stop-opacity="0.921"/><stop offset="0.25" stop-color="#000000" stop-opacity="0.866"/><stop offset="0.30" stop-color="#000000" stop-opacity="0.797"/><stop offset="0.35" stop-color="#000000" stop-opacity="0.716"/><stop offset="0.40" stop-color="#000000" stop-opacity="0.628"/><stop offset="0.45" stop-color="#000000" stop-opacity="0.535"/><stop offset="0.50" stop-color="#000000" stop-opacity="0.443"/><stop offset="0.55" stop-color="#000000" stop-opacity="0.356"/><stop offset="0.60" stop-color="#000000" stop-opacity="0.277"/><stop offset="0.65" stop-color="#000000" stop-opacity="0.208"/><stop offset="0.70" stop-color="#000000" stop-opacity="0.151"/><stop offset="0.75" stop-color="#000000" stop-opacity="0.106"/><stop offset="0.80" stop-color="#000000" stop-opacity="0.072"/><stop offset="0.85" stop-color="#000000" stop-opacity="0.047"/><stop offset="0.90" stop-color="#000000" stop-opacity="0.029"/><stop offset="0.95" stop-color="#000000" stop-opacity="0.017"/><stop offset="1.00" stop-color="#000000" stop-opacity="0.000"/></radialGradient><radialGradient id="rg19" cx="0.5" cy="0.5" r="0.5"><stop offset="0.00" stop-color="#262626" stop-opacity="1.000"/><stop offset="0.05" stop-color="#262626" stop-opacity="0.997"/><stop offset="0.10" stop-color="#262626" stop-opacity="0.986"/><stop offset="0.15" stop-color="#262626" stop-opacity="0.961"/><stop offset="0.20" stop-color="#262626" stop-opacity="0.921"/><stop offset="0.25" stop-color="#262626" stop-opacity="0.866"/><stop offset="0.30" stop-color="#262626" stop-opacity="0.797"/><stop offset="0.35" stop-color="#262626" stop-opacity="0.716"/><stop offset="0.40" stop-color="#262626" stop-opacity="0.628"/><stop offset="0.45" stop-color="#262626" stop-opacity="0.535"/><stop offset="0.50" stop-color="#262626" stop-opacity="0.443"/><stop offset="0.55" stop-color="#262626" stop-opacity="0.356"/><stop offset="0.60" stop-color="#262626" stop-opacity="0.277"/><stop offset="0.65" stop-color="#262626" stop-opacity="0.208"/><stop offset="0.70" stop-color="#262626" stop-opacity="0.151"/><stop offset="0.75" stop-color="#262626" stop-opacity="0.106"/><stop offset="0.80" stop-color="#262626" stop-opacity="0.072"/><stop offset="0.85" stop-color="#262626" stop-opacity="0.047"/><stop offset="0.90" stop-color="#262626" stop-opacity="0.029"/><stop offset="0.95" stop-color="#262626" stop-opacity="0.017"/><stop offset="1.00" stop-color="#262626" stop-opacity="0.000"/></radialGradient><radialGradient id="rg20" cx="0.5" cy="0.5" r="0.5"><stop offset="0.00" stop-color="#383838" stop-opacity="1.000"/><stop offset="0.05" stop-color="#383838" stop-opacity="0.997"/><stop offset="0.10" stop-color="#383838" stop-opacity="0.986"/><stop offset="0.15" stop-color="#383838" stop-opacity="0.961"/><stop offset="0.20" stop-color="#383838" stop-opacity="0.921"/><stop offset="0.25" stop-color="#383838" stop-opacity="0.866"/><stop offset="0.30" stop-color="#383838" stop-opacity="0.797"/><stop offset="0.35" stop-color="#383838" stop-opacity="0.716"/><stop offset="0.40" stop-color="#383838" stop-opacity="0.628"/><stop offset="0.45" stop-color="#383838" stop-opacity="0.535"/><stop offset="0.50" stop-color="#383838" stop-opacity="0.443"/><stop offset="0.55" stop-color="#383838" stop-opacity="0.356"/><stop offset="0.60" stop-color="#383838" stop-opacity="0.277"/><stop offset="0.65" stop-color="#383838" stop-opacity="0.208"/><stop offset="0.70" stop-color="#383838" stop-opacity="0.151"/><stop offset="0.75" stop-color="#383838" stop-opacity="0.106"/><stop offset="0.80" stop-color="#383838" stop-opacity="0.072"/><stop offset="0.85" stop-color="#383838" stop-opacity="0.047"/><stop offset="0.90" stop-color="#383838" stop-opacity="0.029"/><stop offset="0.95" stop-color="#383838" stop-opacity="0.017"/><stop offset="1.00" stop-color="#383838" stop-opacity="0.000"/></radialGradient><radialGradient id="rg21" cx="0.5" cy="0.5" r="0.5"><stop offset="0.00" stop-color="#1a1a1a" stop-opacity="1.000"/><stop offset="0.05" stop-color="#1a1a1a" stop-opacity="0.997"/><stop offset="0.10" stop-color="#1a1a1a" stop-opacity="0.986"/><stop offset="0.15" stop-color="#1a1a1a" stop-opacity="0.961"/><stop offset="0.20" stop-color="#1a1a1a" stop-opacity="0.921"/><stop offset="0.25" stop-color="#1a1a1a" stop-opacity="0.866"/><stop offset="0.30" stop-color="#1a1a1a" stop-opacity="0.797"/><stop offset="0.35" stop-color="#1a1a1a" stop-opacity="0.716"/><stop offset="0.40" stop-color="#1a1a1a" stop-opacity="0.628"/><stop offset="0.45" stop-color="#1a1a1a" stop-opacity="0.535"/><stop offset="0.50" stop-color="#1a1a1a" stop-opacity="0.443"/><stop offset="0.55" stop-color="#1a1a1a" stop-opacity="0.356"/><stop offset="0.60" stop-color="#1a1a1a" stop-opacity="0.277"/><stop offset="0.65" stop-color="#1a1a1a" stop-opacity="0.208"/><stop offset="0.70" stop-color="#1a1a1a" stop-opacity="0.151"/><stop offset="0.75" stop-color="#1a1a1a" stop-opacity="0.106"/><stop offset="0.80" stop-color="#1a1a1a" stop-opacity="0.072"/><stop offset="0.85" stop-color="#1a1a1a" stop-opacity="0.047"/><stop offset="0.90" stop-color="#1a1a1a" stop-opacity="0.029"/><stop offset="0.95" stop-color="#1a1a1a" stop-opacity="0.017"/><stop offset="1.00" stop-color="#1a1a1a" stop-opacity="0.000"/></radialGradient><radialGradient id="rg22" cx="0.5" cy="0.5" r="0.5"><stop offset="0.00" stop-color="#292929" stop-opacity="1.000"/><stop offset="0.05" stop-color="#292929" stop-opacity="0.997"/><stop offset="0.10" stop-color="#292929" stop-opacity="0.986"/><stop offset="0.15" stop-color="#292929" stop-opacity="0.961"/><stop offset="0.20" stop-color="#292929" stop-opacity="0.921"/><stop offset="0.25" stop-color="#292929" stop-opacity="0.866"/><stop offset="0.30" stop-color="#292929" stop-opacity="0.797"/><stop offset="0.35" stop-color="#292929" stop-opacity="0.716"/><stop offset="0.40" stop-color="#292929" stop-opacity="0.628"/><stop offset="0.45" stop-color="#292929" stop-opacity="0.535"/><stop offset="0.50" stop-color="#292929" stop-opacity="0.443"/><stop offset="0.55" stop-color="#292929" stop-opacity="0.356"/><stop offset="0.60" stop-color="#292929" stop-opacity="0.277"/><stop offset="0.65" stop-color="#292929" stop-opacity="0.208"/><stop offset="0.70" stop-color="#292929" stop-opacity="0.151"/><stop offset="0.75" stop-color="#292929" stop-opacity="0.106"/><stop offset="0.80" stop-color="#292929" stop-opacity="0.072"/><stop offset="0.85" stop-color="#292929" stop-opacity="0.047"/><stop offset="0.90" stop-color="#292929" stop-opacity="0.029"/><stop offset="0.95" stop-color="#292929" stop-opacity="0.017"/><stop offset="1.00" stop-color="#292929" stop-opacity="0.000"/></radialGradient><radialGradient id="rg23" cx="0.5" cy="0.5" r="0.5"><stop offset="0.00" stop-color="#0f0f0f" stop-opacity="1.000"/><stop offset="0.05" stop-color="#0f0f0f" stop-opacity="0.997"/><stop offset="0.10" stop-color="#0f0f0f" stop-opacity="0.986"/><stop offset="0.15" stop-color="#0f0f0f" stop-opacity="0.961"/><stop offset="0.20" stop-color="#0f0f0f" stop-opacity="0.921"/><stop offset="0.25" stop-color="#0f0f0f" stop-opacity="0.866"/><stop offset="0.30" stop-color="#0f0f0f" stop-opacity="0.797"/><stop offset="0.35" stop-color="#0f0f0f" stop-opacity="0.716"/><stop offset="0.40" stop-color="#0f0f0f" stop-opacity="0.628"/><stop offset="0.45" stop-color="#0f0f0f" stop-opacity="0.535"/><stop offset="0.50" stop-color="#0f0f0f" stop-opacity="0.443"/><stop offset="0.55" stop-color="#0f0f0f" stop-opacity="0.356"/><stop offset="0.60" stop-color="#0f0f0f" stop-opacity="0.277"/><stop offset="0.65" stop-color="#0f0f0f" stop-opacity="0.208"/><stop offset="0.70" stop-color="#0f0f0f" stop-opacity="0.151"/><stop offset="0.75" stop-color="#0f0f0f" stop-opacity="0.106"/><stop offset="0.80" stop-color="#0f0f0f" stop-opacity="0.072"/><stop offset="0.85" stop-color="#0f0f0f" stop-opacity="0.047"/><stop offset="0.90" stop-color="#0f0f0f" stop-opacity="0.029"/><stop offset="0.95" stop-color="#0f0f0f" stop-opacity="0.017"/><stop offset="1.00" stop-color="#0f0f0f" stop-opacity="0.000"/></radialGradient><radialGradient id="rg24" cx="0.5" cy="0.5" r="0.5"><stop offset="0.00" stop-color="#333333" stop-opacity="1.000"/><stop offset="0.05" stop-color="#333333" stop-opacity="0.997"/><stop offset="0.10" stop-color="#333333" stop-opacity="0.986"/><stop offset="0.15" stop-color="#333333" stop-opacity="0.961"/><stop offset="0.20" stop-color="#333333" stop-opacity="0.921"/><stop offset="0.25" stop-color="#333333" stop-opacity="0.866"/><stop offset="0.30" stop-color="#333333" stop-opacity="0.797"/><stop offset="0.35" stop-color="#333333" stop-opacity="0.716"/><stop offset="0.40" stop-color="#333333" stop-opacity="0.628"/><stop offset="0.45" stop-color="#333333" stop-opacity="0.535"/><stop offset="0.50" stop-color="#333333" stop-opacity="0.443"/><stop offset="0.55" stop-color="#333333" stop-opacity="0.356"/><stop offset="0.60" stop-color="#333333" stop-opacity="0.277"/><stop offset="0.65" stop-color="#333333" stop-opacity="0.208"/><stop offset="0.70" stop-color="#333333" stop-opacity="0.151"/><stop offset="0.75" stop-color="#333333" stop-opacity="0.106"/><stop offset="0.80" stop-color="#333333" stop-opacity="0.072"/><stop offset="0.85" stop-color="#333333" stop-opacity="0.047"/><stop offset="0.90" stop-color="#333333" stop-opacity="0.029"/><stop offset="0.95" stop-color="#333333" stop-opacity="0.017"/><stop offset="1.00" stop-color="#333333" stop-opacity="0.000"/></radialGradient><radialGradient id="rg25" cx="0.5" cy="0.5" r="0.5"><stop offset="0.00" stop-color="#141414" stop-opacity="1.000"/><stop offset="0.05" stop-color="#141414" stop-opacity="0.997"/><stop offset="0.10" stop-color="#141414" stop-opacity="0.986"/><stop offset="0.15" stop-color="#141414" stop-opacity="0.961"/><stop offset="0.20" stop-color="#141414" stop-opacity="0.921"/><stop offset="0.25" stop-color="#141414" stop-opacity="0.866"/><stop offset="0.30" stop-color="#141414" stop-opacity="0.797"/><stop offset="0.35" stop-color="#141414" stop-opacity="0.716"/><stop offset="0.40" stop-color="#141414" stop-opacity="0.628"/><stop offset="0.45" stop-color="#141414" stop-opacity="0.535"/><stop offset="0.50" stop-color="#141414" stop-opacity="0.443"/><stop offset="0.55" stop-color="#141414" stop-opacity="0.356"/><stop offset="0.60" stop-color="#141414" stop-opacity="0.277"/><stop offset="0.65" stop-color="#141414" stop-opacity="0.208"/><stop offset="0.70" stop-color="#141414" stop-opacity="0.151"/><stop offset="0.75" stop-color="#141414" stop-opacity="0.106"/><stop offset="0.80" stop-color="#141414" stop-opacity="0.072"/><stop offset="0.85" stop-color="#141414" stop-opacity="0.047"/><stop offset="0.90" stop-color="#141414" stop-opacity="0.029"/><stop offset="0.95" stop-color="#141414" stop-opacity="0.017"/><stop offset="1.00" stop-color="#141414" stop-opacity="0.000"/></radialGradient><radialGradient id="rg26" cx="0.5" cy="0.5" r="0.5"><stop offset="0.00" stop-color="#4f4f4f" stop-opacity="1.000"/><stop offset="0.05" stop-color="#4f4f4f" stop-opacity="0.997"/><stop offset="0.10" stop-color="#4f4f4f" stop-opacity="0.986"/><stop offset="0.15" stop-color="#4f4f4f" stop-opacity="0.961"/><stop offset="0.20" stop-color="#4f4f4f" stop-opacity="0.921"/><stop offset="0.25" stop-color="#4f4f4f" stop-opacity="0.866"/><stop offset="0.30" stop-color="#4f4f4f" stop-opacity="0.797"/><stop offset="0.35" stop-color="#4f4f4f" stop-opacity="0.716"/><stop offset="0.40" stop-color="#4f4f4f" stop-opacity="0.628"/><stop offset="0.45" stop-color="#4f4f4f" stop-opacity="0.535"/><stop offset="0.50" stop-color="#4f4f4f" stop-opacity="0.443"/><stop offset="0.55" stop-color="#4f4f4f" stop-opacity="0.356"/><stop offset="0.60" stop-color="#4f4f4f" stop-opacity="0.277"/><stop offset="0.65" stop-color="#4f4f4f" stop-opacity="0.208"/><stop offset="0.70" stop-color="#4f4f4f" stop-opacity="0.151"/><stop offset="0.75" stop-color="#4f4f4f" stop-opacity="0.106"/><stop offset="0.80" stop-color="#4f4f4f" stop-opacity="0.072"/><stop offset="0.85" stop-color="#4f4f4f" stop-opacity="0.047"/><stop offset="0.90" stop-color="#4f4f4f" stop-opacity="0.029"/><stop offset="0.95" stop-color="#4f4f4f" stop-opacity="0.017"/><stop offset="1.00" stop-color="#4f4f4f" stop-opacity="0.000"/></radialGradient></defs>
<rect x="40" y="520" width="1080" height="640" fill="#808080"/>
<g filter="url(#b16)">
<polygon points="340,688 400,660 425,635 470,620 560,635 695,645 712,700 765,728 855,738 950,758 950,800 930,865 880,870 865,805 780,790 745,835 705,865 695,905 645,910 645,1000 600,1050 520,1040 498,975 520,930 538,900 518,860 526,800 600,768 560,738 470,726 340,726" fill="#cccccc"/>
<polygon points="255,600 345,597 405,640 398,676 330,672 250,668 215,690 195,670 225,640" fill="#454545"/>
<polygon points="165,932 205,968 250,935 262,880 320,865 405,885 405,1000 395,1100 165,1100" fill="#303030"/>
<polygon points="215,760 300,780 360,830 350,860 280,850 205,800" fill="#525252"/>
<polygon points="775,795 830,795 865,880 850,935 800,930 720,900 710,865 765,850" fill="#4c4c4c"/>
<polygon points="905,900 950,900 1000,1030 975,1070 925,1070 900,1000" fill="#4c4c4c"/>
<polygon points="470,840 520,840 560,900 510,980 470,975" fill="#525252"/>
<polygon points="645,890 672,890 672,980 645,980" fill="#4c4c4c"/>
<polygon points="100,705 165,705 195,745 188,830 165,900 150,1000 150,1100 100,1100" fill="#dbdbdb"/>
<polygon points="712,570 945,570 940,625 900,660 850,672 800,648 740,624" fill="#d1d1d1"/>
<rect x="235" y="575" width="215" height="24" fill="#d9d9d9"/>
<polygon points="405,800 462,800 462,1000 452,1085 412,1085 405,960" fill="#c2c2c2"/>
<polygon points="690,915 750,915 757,1080 700,1080" fill="#b8b8b8"/>
<polygon points="749,660 850,670 900,740 760,735" fill="#999999"/>
<polygon points="688,722 760,726 850,730 950,748 950,775 850,762 760,742 700,742" fill="#d1d1d1"/>
</g>
<g filter="url(#b8)">
<polygon points="376.6,713.1 376.6,695 388,695 407.5,686.3 438.3,663.3 440,652 470,643 499.2,645 520,645 531.4,653.3 574,653.3 584.5,662 663,662 673,671 683,671 683,696 693.5,703.5 683.4,712 683.4,717.5 704.3,736.5 714.7,736.5 725.2,745.5 748,745.5 755,753.6 762,746 796.5,746 806.5,737.5 816.5,746 829,746 846.5,762.3 766,762.3 694.8,821 653,821 642.6,812.5 601.8,812.5 591.3,804 580.9,812.5 580.9,804 591.3,795.4 600.8,795.4 633.1,770.7 633.1,762.1 611.3,745 600.8,745 590.4,736.5 582.6,736.5 561.8,721.6 552.3,721.6 541.8,713.1 531.4,713.1 520,703.6 479.2,703.6 468.7,713.1" fill="#ebebeb"/>
<polygon points="560,800 600,790 640,815 700,822 735,835 700,850 668,880 640,895 590,895 585,930 560,935 555,895 535,870 528,830" fill="#ececec"/>
<polygon points="722,585 865,585 850,600 828,619 790,615 750,604" fill="#e6e6e6"/>
<polygon points="760,765 850,765 940,775 935,795 850,790 760,785" fill="#e0e0e0"/>
</g>
<g filter="url(#b11)">
<polygon points="468,672 520,652 575,658 660,668 678,690 680,720 720,745 800,752 760,760 700,812 655,815 600,805 625,775 628,760 590,735 540,712 500,704 468,700" fill="#fbfbfb"/>
<polygon points="509.1,933.7 543.0,917.2 605.2,928.2 650.4,983.2 610.9,999.7 605.2,1032.7 577.0,1043.7 565.6,1093.2 554.4,1093.2 543.0,1032.7 503.5,1032.7 514.8,988.7 497.9,961.2" fill="#ffffff"/>
</g>
<ellipse cx="180" cy="666" rx="104.8" ry="47.2" fill="url(#rg0)"/>
<ellipse cx="995" cy="603" rx="136.2" ry="34.1" fill="url(#rg1)"/>
<ellipse cx="307" cy="620" rx="124.5" ry="52.3" fill="url(#rg17)"/>
<ellipse cx="359" cy="652" rx="105.5" ry="48.5" fill="url(#rg17)"/>
<ellipse cx="194" cy="668" rx="101.7" ry="48.5" fill="url(#rg17)"/>
<ellipse cx="388" cy="766" rx="67.5" ry="48.5" fill="url(#rg17)"/>
<ellipse cx="230" cy="781" rx="101.7" ry="52.3" fill="url(#rg17)" transform="rotate(12 230 781)"/>
<ellipse cx="280" cy="811" rx="86.5" ry="63.7" fill="url(#rg17)"/>
<ellipse cx="342" cy="840" rx="75.1" ry="48.5" fill="url(#rg17)"/>
<ellipse cx="603" cy="612" rx="223.2" ry="78.9" fill="url(#rg17)"/>
<ellipse cx="735" cy="648" rx="101.7" ry="40.9" fill="url(#rg17)"/>
<ellipse cx="905" cy="710" rx="185.2" ry="63.7" fill="url(#rg17)"/>
<ellipse cx="977" cy="829" rx="82.7" ry="147.2" fill="url(#rg17)"/>
<ellipse cx="174" cy="881" rx="105.5" ry="82.7" fill="url(#rg17)"/>
<ellipse cx="834.5" cy="898.7" rx="109.3" ry="113.1" fill="url(#rg17)"/>
<ellipse cx="920" cy="932" rx="97.9" ry="97.9" fill="url(#rg17)"/>
<ellipse cx="738" cy="714" rx="48.5" ry="37.1" fill="url(#rg17)"/>
<ellipse cx="434" cy="878" rx="73.4" ry="193.9" fill="url(#rg2)"/>
<ellipse cx="420" cy="1008" rx="26.2" ry="117.9" fill="url(#rg3)"/>
<ellipse cx="722" cy="995" rx="55.0" ry="188.6" fill="url(#rg4)" transform="rotate(-8 722 995)"/>
<ellipse cx="860" cy="1026" rx="31.4" ry="94.3" fill="url(#rg5)"/>
<ellipse cx="1002" cy="1040" rx="39.3" ry="110.0" fill="url(#rg6)"/>
<ellipse cx="1011" cy="1040" rx="28.8" ry="99.6" fill="url(#rg4)"/>
<ellipse cx="170" cy="812" rx="31.4" ry="57.6" fill="url(#rg7)"/>
<ellipse cx="895" cy="815" rx="57.6" ry="104.8" fill="url(#rg8)"/>
<ellipse cx="124" cy="990" rx="41.9" ry="183.4" fill="url(#rg9)"/>
<ellipse cx="141" cy="1025" rx="13.1" ry="99.6" fill="url(#rg10)"/>
<ellipse cx="235" cy="645" rx="57.6" ry="26.2" fill="url(#rg0)" transform="rotate(-40 235 645)"/>
<ellipse cx="170" cy="591" rx="157.2" ry="15.7" fill="url(#rg11)"/>
<ellipse cx="905" cy="642" rx="68.1" ry="34.1" fill="url(#rg12)"/>
<ellipse cx="1005" cy="716" rx="78.6" ry="52.4" fill="url(#rg0)"/>
<ellipse cx="410" cy="592" rx="91.7" ry="18.3" fill="url(#rg13)"/>
<ellipse cx="330" cy="590" rx="183.4" ry="10.5" fill="url(#rg14)"/>
<ellipse cx="1030" cy="1045" rx="23.6" ry="78.6" fill="url(#rg7)"/>
<ellipse cx="1028" cy="870" rx="26.2" ry="78.6" fill="url(#rg0)"/>
<ellipse cx="1030" cy="1080" rx="31.4" ry="21.0" fill="url(#rg15)"/>
<ellipse cx="307" cy="620" rx="78.6" ry="28.8" fill="url(#rg16)"/>
<ellipse cx="359" cy="652" rx="65.5" ry="26.2" fill="url(#rg16)"/>
<ellipse cx="194" cy="668" rx="62.9" ry="26.2" fill="url(#rg16)"/>
<ellipse cx="258" cy="731" rx="39.3" ry="26.2" fill="url(#rg16)"/>
<ellipse cx="388" cy="766" rx="39.3" ry="26.2" fill="url(#rg16)"/>
<ellipse cx="230" cy="781" rx="62.9" ry="28.8" fill="url(#rg16)" transform="rotate(12 230 781)"/>
<ellipse cx="280" cy="811" rx="52.4" ry="36.7" fill="url(#rg18)"/>
<ellipse cx="342" cy="840" rx="44.5" ry="26.2" fill="url(#rg16)"/>
<ellipse cx="603" cy="612" rx="146.7" ry="47.2" fill="url(#rg18)"/>
<ellipse cx="735" cy="648" rx="62.9" ry="21.0" fill="url(#rg16)"/>
<ellipse cx="905" cy="710" rx="120.5" ry="36.7" fill="url(#rg18)"/>
<ellipse cx="802" cy="814" rx="78.6" ry="34.1" fill="url(#rg18)" transform="rotate(40 802 814)"/>
<ellipse cx="977" cy="829" rx="49.8" ry="94.3" fill="url(#rg18)"/>
<ellipse cx="174" cy="881" rx="65.5" ry="49.8" fill="url(#rg18)"/>
<ellipse cx="282" cy="920" rx="65.5" ry="73.4" fill="url(#rg18)"/>
<ellipse cx="355" cy="915" rx="47.2" ry="62.9" fill="url(#rg18)"/>
<ellipse cx="357" cy="957" rx="26.2" ry="39.3" fill="url(#rg16)"/>
<ellipse cx="392" cy="922" rx="26.2" ry="26.2" fill="url(#rg16)"/>
<ellipse cx="192" cy="995" rx="70.7" ry="110.0" fill="url(#rg18)"/>
<ellipse cx="230" cy="1015" rx="49.8" ry="62.9" fill="url(#rg18)"/>
<ellipse cx="337" cy="1047" rx="60.3" ry="78.6" fill="url(#rg18)"/>
<ellipse cx="690" cy="1040" rx="49.8" ry="120.5" fill="url(#rg18)" transform="rotate(-18 690 1040)"/>
<ellipse cx="719" cy="861" rx="26.2" ry="23.6" fill="url(#rg16)"/>
<ellipse cx="737" cy="887" rx="28.8" ry="26.2" fill="url(#rg16)"/>
<ellipse cx="834.5" cy="898.7" rx="68.1" ry="70.7" fill="url(#rg18)"/>
<ellipse cx="947" cy="975" rx="39.3" ry="136.2" fill="url(#rg18)" transform="rotate(-25 947 975)"/>
<ellipse cx="920" cy="932" rx="60.3" ry="60.3" fill="url(#rg18)"/>
<ellipse cx="815" cy="1052" rx="41.9" ry="76.0" fill="url(#rg18)"/>
<ellipse cx="458" cy="997" rx="44.5" ry="47.2" fill="url(#rg18)"/>
<ellipse cx="738" cy="714" rx="26.2" ry="18.3" fill="url(#rg16)"/>
<ellipse cx="488.8" cy="792.9" rx="28.8" ry="28.8" fill="url(#rg16)"/>
<ellipse cx="499.5" cy="856" rx="21.0" ry="23.6" fill="url(#rg16)"/>
<ellipse cx="490" cy="901.8" rx="26.2" ry="28.8" fill="url(#rg16)"/>
<ellipse cx="601.7" cy="928.7" rx="19.7" ry="19.7" fill="url(#rg16)"/>
<ellipse cx="658.2" cy="915.2" rx="21.0" ry="26.2" fill="url(#rg16)"/>
<ellipse cx="658.2" cy="955.6" rx="21.0" ry="26.2" fill="url(#rg16)"/>
<ellipse cx="766.5" cy="958" rx="18.3" ry="18.3" fill="url(#rg16)"/>
<ellipse cx="829" cy="962" rx="26.2" ry="28.8" fill="url(#rg16)"/>
<ellipse cx="766.5" cy="1024" rx="15.7" ry="26.2" fill="url(#rg16)"/>
<ellipse cx="906.5" cy="1012" rx="28.8" ry="44.5" fill="url(#rg16)"/>
<ellipse cx="613" cy="1050" rx="23.6" ry="78.6" fill="url(#rg16)"/>
<ellipse cx="282" cy="992" rx="28.8" ry="44.5" fill="url(#rg16)"/>
<ellipse cx="379.5" cy="1010" rx="26.2" ry="31.4" fill="url(#rg16)"/>
<ellipse cx="990" cy="598" rx="104.8" ry="23.6" fill="url(#rg16)"/>
<ellipse cx="1030" cy="945" rx="26.2" ry="68.1" fill="url(#rg16)"/>
<ellipse cx="588" cy="762" rx="23.6" ry="15.7" fill="url(#rg19)"/>
<ellipse cx="505" cy="734" rx="31.4" ry="22.3" fill="url(#rg16)"/>
<ellipse cx="618" cy="843" rx="34.1" ry="27.5" fill="url(#rg20)"/>
<ellipse cx="546.6" cy="900.4" rx="26.2" ry="21.0" fill="url(#rg21)"/>
<ellipse cx="495.5" cy="962.3" rx="23.6" ry="21.0" fill="url(#rg22)"/>
<ellipse cx="515" cy="1078" rx="39.3" ry="21.0" fill="url(#rg23)"/>
<ellipse cx="548" cy="1060" rx="18.3" ry="31.4" fill="url(#rg24)"/>
<ellipse cx="899" cy="1068" rx="13.1" ry="47.2" fill="url(#rg25)"/>
<ellipse cx="275" cy="1078" rx="248.9" ry="36.7" fill="url(#rg16)"/>
<ellipse cx="324.5" cy="982" rx="31.4" ry="39.3" fill="url(#rg26)"/>
</g>
<g fill="none" stroke="#fff" stroke-width="2.7" stroke-linejoin="round" stroke-linecap="round">
<path d="M117 647 L121 645 L168 633.6 L174 628.8 L203 628.8 L203 620.2 L228 606 L235 602.8 L257 602.8 L266 596.3 L369.5 596.3 L379.5 604 L428 604 L438.3 612.7 L438.3 628.5 L448.6 628.5 L458.9 636.4 L448.6 646 L438.3 646 L438.3 663.3 L407.5 686.3 L397.2 686.3 L387 695 L376.6 695 L376.6 713.1 L468.7 713.1 L479.2 703.6 L520 703.6 L531.4 713.1 L541.8 713.1 L552.3 721.6 L561.8 721.6 L582.6 736.5 L590.4 736.5 L600.8 745 L611.3 745 L633.1 762.1 L633.1 770.7 L600.8 795.4 L591.3 795.4 L580.9 804 L580.9 812.5 L591.3 804 L601.8 812.5 L642.6 812.5 L653 821 L694.8 821 L766 762.3 L846.5 762.3 L829 746 L816.5 746 L806.5 737.5 L796.5 746 L762 746 L755 753.6 L748 745.5 L725.2 745.5 L714.7 736.5 L704.3 736.5 L683.4 717.5 L683.4 712 L693.5 703.5 L683 696 L683 671 L673 671 L663 662 L584.5 662 L574 653.3 L531.4 653.3 L520 645 L499.2 645 L489.7 636.4 L478.7 636.4 L458.9 619 L458.9 612.7 L480.3 595.3 L490.5 595.3"/>
<path d="M448.6 603.5 L457.3 611.4 L448.6 620.6 L439.5 612Z"/>
<path d="M725.5 591 L725.5 611.3 L748.5 611.3 L761 620.5 L772 620.5 L781 628.5 L798 628.5 L806.5 636.3 L821 636.3 L836.5 651.5 L850 652.8 L858.5 662 L867.5 653.3 L951 653.3 L960.2 644.8 L969.3 653.3 L1032 653.3"/>
<path d="M924 598.5 L919 603.5 L919 610 L949 636.3 L1011.5 636.3 L1020.3 628.7 L1032 628.7"/>
<path d="M120 695.4 L130.1 695.4 L151.6 712.2 L162.3 712.2 L162.3 719.6 L173.1 727.7 L173.1 744.4 L153 761.2 L153 768.6 L142.2 778.7 L142.2 795.4 L121.4 812.2 L121.4 821"/>
<path d="M540.5 996.3 L540.5 962.5 L560.5 946.3 L561.8 953.8 L571.8 962 L582.5 962 L582.5 987.5 L571.8 987.5 L561.8 996.3Z"/>
<path d="M858 770 L869 770"/>
</g>
<g fill="#000" stroke="#000" stroke-width="0.45" stroke-linejoin="round">
<polygon points="475.5,657.4 464.9,663.5 464.9,659.0 456.8,669.0 469.5,667.0 465.6,664.7 476.2,658.6"/>
<polygon points="496.0,657.1 485.6,663.5 485.4,659.1 477.7,669.3 490.3,666.9 486.4,664.7 496.7,658.3"/>
<polygon points="516.2,656.5 506.3,663.6 505.8,659.2 498.8,670.0 511.2,666.6 507.1,664.8 517.0,657.6"/>
<polygon points="536.0,655.5 527.0,663.8 526.0,659.5 520.4,671.0 532.3,666.2 528.0,664.8 536.9,656.5"/>
<polygon points="555.6,654.6 547.8,664.0 546.2,659.8 542.0,671.9 553.3,665.7 548.9,664.9 556.7,655.5"/>
<polygon points="435.9,679.2 423.7,678.8 426.1,674.9 413.9,679.1 425.7,684.1 423.7,680.2 435.9,680.6"/>
<polygon points="456.5,677.8 444.3,678.9 446.2,674.8 434.6,680.5 447.0,684.0 444.5,680.3 456.6,679.2"/>
<polygon points="476.7,676.0 465.0,679.1 466.1,674.8 455.7,682.3 468.5,683.7 465.3,680.5 477.1,677.3"/>
<polygon points="497.1,675.1 485.6,679.3 486.4,674.8 476.7,683.3 489.5,683.5 486.1,680.6 497.6,676.4"/>
<polygon points="516.9,673.4 506.3,679.5 506.3,675.0 498.2,685.0 510.9,683.0 507.0,680.7 517.6,674.6"/>
<polygon points="536.6,672.2 527.0,679.7 526.4,675.3 519.7,686.3 532.0,682.5 527.9,680.8 537.5,673.3"/>
<polygon points="556.4,671.2 547.8,679.9 546.6,675.5 541.3,687.3 553.1,682.0 548.7,680.8 557.4,672.2"/>
<polygon points="576.0,670.4 568.5,680.0 566.8,675.9 563.0,688.2 574.0,681.5 569.6,680.9 577.1,671.3"/>
<polygon points="595.7,669.8 589.3,680.1 587.1,676.2 584.7,688.8 594.9,681.1 590.5,680.9 596.9,670.5"/>
<polygon points="616.1,669.6 610.0,680.2 607.7,676.3 605.7,689.0 615.7,680.9 611.2,680.9 617.3,670.3"/>
<polygon points="636.8,669.6 630.7,680.2 628.4,676.3 626.4,689.0 636.4,680.9 631.9,680.9 638.0,670.3"/>
<polygon points="414.1,700.4 403.5,694.3 407.4,692.0 394.7,690.0 402.8,700.0 402.8,695.5 413.4,701.6"/>
<polygon points="435.5,698.6 424.0,694.4 427.4,691.5 414.6,691.7 424.3,700.2 423.5,695.7 435.0,699.9"/>
<polygon points="456.6,696.7 444.5,694.6 447.4,691.1 434.8,693.6 445.8,700.2 444.3,696.0 456.3,698.1"/>
<polygon points="477.3,695.2 465.1,694.8 467.5,690.9 455.3,695.1 467.1,700.1 465.1,696.2 477.3,696.6"/>
<polygon points="497.9,693.8 485.7,694.9 487.6,690.8 476.0,696.5 488.4,700.0 485.9,696.3 498.0,695.2"/>
<polygon points="517.8,691.1 506.3,695.3 507.1,690.8 497.4,699.3 510.2,699.5 506.8,696.6 518.3,692.4"/>
<polygon points="537.0,688.6 527.0,695.6 526.6,691.2 519.4,701.8 531.9,698.7 527.8,696.8 537.8,689.8"/>
<polygon points="555.3,686.4 547.8,696.0 546.1,691.9 542.3,704.2 553.3,697.5 548.9,696.9 556.4,687.3"/>
<polygon points="574.5,685.5 568.6,696.2 566.3,692.4 564.5,705.1 574.3,696.9 569.8,696.9 575.7,686.2"/>
<polygon points="594.2,685.1 589.4,696.3 586.7,692.8 586.2,705.6 595.1,696.4 590.7,696.9 595.4,685.6"/>
<polygon points="614.3,684.9 610.1,696.4 607.2,693.0 607.4,705.8 615.9,696.1 611.4,696.9 615.6,685.4"/>
<polygon points="635.0,684.9 630.8,696.4 627.9,693.0 628.1,705.8 636.6,696.1 632.1,696.9 636.3,685.4"/>
<polygon points="656.3,685.1 651.5,696.3 648.8,692.8 648.3,705.6 657.2,696.4 652.8,696.9 657.5,685.6"/>
<polygon points="678.2,685.6 672.1,696.2 669.8,692.3 667.8,705.0 677.8,696.9 673.3,696.9 679.4,686.3"/>
<polygon points="434.1,717.6 424.4,710.2 428.5,708.4 416.1,704.9 422.9,715.8 423.5,711.3 433.3,718.7"/>
<polygon points="455.3,716.7 445.0,710.3 448.9,708.1 436.3,705.7 444.0,715.9 444.2,711.5 454.6,717.9"/>
<polygon points="553.6,703.0 547.9,713.7 545.5,710.0 543.9,722.7 553.6,714.3 549.2,714.4 554.9,703.6"/>
<polygon points="571.4,702.1 568.9,714.0 565.5,711.1 567.5,723.8 574.5,713.0 570.2,714.3 572.8,702.4"/>
<polygon points="590.2,702.0 589.8,714.2 585.9,711.8 590.1,724.0 595.1,712.2 591.2,714.2 591.6,702.0"/>
<polygon points="610.1,702.0 610.5,714.2 606.6,712.2 611.6,724.0 615.8,711.8 611.9,714.2 611.5,702.0"/>
<polygon points="630.6,702.1 631.3,714.2 627.3,712.2 632.5,724.0 636.4,711.8 632.7,714.2 632.0,702.0"/>
<polygon points="650.9,702.1 652.0,714.3 647.9,712.4 653.6,724.0 657.1,711.6 653.4,714.1 652.3,702.0"/>
<polygon points="672.6,702.0 672.6,714.2 668.7,712.0 673.3,724.0 677.9,712.0 674.0,714.2 674.0,702.0"/>
<polygon points="587.2,720.0 590.1,731.8 585.8,730.6 593.2,741.2 594.7,728.4 591.5,731.5 588.5,719.7"/>
<polygon points="606.8,720.4 611.0,731.9 606.5,731.1 615.0,740.8 615.2,728.0 612.3,731.4 608.1,719.9"/>
<polygon points="626.8,720.7 631.7,731.9 627.3,731.5 636.4,740.5 635.7,727.7 633.0,731.3 628.1,720.2"/>
<polygon points="646.7,721.2 652.6,731.9 648.1,731.9 657.9,740.1 656.1,727.4 653.8,731.2 647.9,720.5"/>
<polygon points="666.6,721.8 673.4,731.9 668.9,732.2 679.5,739.6 676.6,727.1 674.6,731.1 667.7,721.0"/>
<polygon points="622.1,740.9 632.6,747.2 628.7,749.4 641.3,751.7 633.4,741.5 633.3,746.0 622.8,739.7"/>
<polygon points="642.3,742.2 653.4,747.1 649.8,749.8 662.6,750.5 653.6,741.4 654.0,745.8 642.8,740.9"/>
<polygon points="662.7,743.1 674.2,747.1 670.9,750.0 683.7,749.6 673.9,741.3 674.7,745.7 663.1,741.8"/>
<polygon points="683.1,744.6 695.0,746.9 692.1,750.3 704.8,748.1 693.9,741.3 695.3,745.5 683.3,743.2"/>
<polygon points="703.7,746.1 715.9,746.8 713.5,750.5 725.7,746.6 713.9,741.4 715.9,745.4 703.8,744.7"/>
<polygon points="641.8,763.2 653.9,761.5 652.2,765.7 663.5,759.5 651.0,756.6 653.7,760.1 641.6,761.8"/>
<polygon points="662.4,762.7 674.6,761.6 672.7,765.7 684.3,760.0 671.9,756.5 674.4,760.2 662.3,761.3"/>
<polygon points="683.1,762.7 695.3,761.6 693.4,765.7 705.0,760.0 692.6,756.5 695.1,760.2 683.0,761.3"/>
<polygon points="703.8,762.7 716.0,761.6 714.1,765.7 725.7,760.0 713.3,756.5 715.8,760.2 703.7,761.3"/>
<polygon points="724.7,763.6 736.7,761.5 735.2,765.7 746.2,759.1 733.6,756.6 736.5,760.1 724.4,762.2"/>
<polygon points="644.4,783.8 654.0,776.3 654.6,780.7 661.3,769.7 649.0,773.5 653.1,775.2 643.5,782.7"/>
<polygon points="664.2,782.8 674.7,776.5 674.8,781.0 682.7,770.8 670.1,773.1 674.0,775.3 663.5,781.6"/>
<polygon points="684.2,781.6 695.4,776.7 695.0,781.1 704.0,772.0 691.2,772.7 694.8,775.4 683.7,780.3"/>
<polygon points="704.8,781.3 716.1,776.7 715.5,781.1 724.9,772.4 712.0,772.6 715.6,775.4 704.2,780.0"/>
<polygon points="630.7,803.5 632.8,791.4 636.3,794.3 633.8,781.7 627.2,792.7 631.4,791.2 629.3,803.2"/>
<polygon points="647.4,802.2 653.8,791.9 656.0,795.8 658.4,783.2 648.2,790.9 652.6,791.1 646.2,801.5"/>
<polygon points="665.7,800.5 674.7,792.2 675.7,796.5 681.3,785.0 669.4,789.8 673.7,791.2 664.8,799.5"/>
<polygon points="685.5,799.5 695.4,792.4 695.9,796.8 702.9,786.0 690.5,789.4 694.6,791.2 684.7,798.4"/>
<polygon points="648.1,818.5 653.8,807.8 656.2,811.5 657.8,798.8 648.1,807.2 652.5,807.1 646.8,817.9"/>
<polygon points="666.3,817.0 674.6,808.1 676.0,812.4 680.8,800.5 669.3,806.1 673.6,807.1 665.3,816.1"/>
<polygon points="129.3,590.9 117.8,595.1 118.6,590.6 108.9,599.1 121.7,599.3 118.3,596.4 129.8,592.2"/>
<polygon points="149.7,590.9 138.2,595.1 139.0,590.6 129.3,599.1 142.1,599.3 138.7,596.4 150.2,592.2"/>
<polygon points="170.1,590.9 158.6,595.1 159.4,590.6 149.7,599.1 162.5,599.3 159.1,596.4 170.6,592.2"/>
<polygon points="190.5,590.9 179.0,595.1 179.8,590.6 170.1,599.1 182.9,599.3 179.5,596.4 191.0,592.2"/>
<polygon points="210.7,590.5 199.4,595.1 200.0,590.7 190.6,599.4 203.5,599.2 199.9,596.4 211.3,591.8"/>
<polygon points="231.0,590.2 219.8,595.1 220.2,590.7 211.2,599.8 224.0,599.1 220.4,596.4 231.5,591.5"/>
<polygon points="251.2,589.8 240.2,595.2 240.5,590.7 231.7,600.1 244.5,599.0 240.8,596.5 251.8,591.1"/>
<polygon points="271.0,588.9 260.6,595.3 260.4,590.9 252.7,601.1 265.3,598.7 261.4,596.5 271.7,590.1"/>
<polygon points="290.6,588.0 281.0,595.5 280.4,591.1 273.7,602.1 286.0,598.3 281.9,596.6 291.5,589.1"/>
<polygon points="310.1,588.3 301.5,597.0 300.3,592.6 295.0,604.4 306.8,599.1 302.4,597.9 311.1,589.3"/>
<polygon points="329.4,587.5 321.9,597.1 320.2,593.0 316.4,605.3 327.4,598.6 323.0,598.0 330.5,588.4"/>
<polygon points="348.8,586.9 342.4,597.2 340.2,593.3 337.8,605.9 348.0,598.2 343.6,598.0 350.0,587.6"/>
<polygon points="368.9,586.7 362.8,597.3 360.5,593.4 358.5,606.1 368.5,598.0 364.0,598.0 370.1,587.4"/>
<polygon points="389.3,586.7 383.2,597.3 380.9,593.4 378.9,606.1 388.9,598.0 384.4,598.0 390.5,587.4"/>
<polygon points="434.4,586.9 428.0,597.2 425.8,593.3 423.4,605.9 433.6,598.2 429.2,598.0 435.6,587.6"/>
<polygon points="130.2,611.3 118.0,611.3 120.2,607.4 108.2,612.0 120.2,616.6 118.0,612.7 130.2,612.7"/>
<polygon points="150.6,611.3 138.4,611.3 140.6,607.4 128.6,612.0 140.6,616.6 138.4,612.7 150.6,612.7"/>
<polygon points="171.0,611.3 158.8,611.3 161.0,607.4 149.0,612.0 161.0,616.6 158.8,612.7 171.0,612.7"/>
<polygon points="191.4,611.3 179.2,611.3 181.4,607.4 169.4,612.0 181.4,616.6 179.2,612.7 191.4,612.7"/>
<polygon points="130.1,627.1 118.0,627.8 120.0,623.8 108.2,629.0 120.4,632.9 118.0,629.2 130.2,628.5"/>
<polygon points="150.5,627.1 138.4,627.8 140.4,623.8 128.6,629.0 140.8,632.9 138.4,629.2 150.6,628.5"/>
<polygon points="708.1,588.9 718.7,595.0 714.8,597.3 727.5,599.3 719.4,589.3 719.4,593.8 708.8,587.7"/>
<polygon points="726.7,593.7 738.6,596.2 735.7,599.6 748.4,597.6 737.6,590.6 738.9,594.9 727.0,592.3"/>
<polygon points="747.1,594.1 759.1,596.2 756.3,599.7 768.9,597.2 757.9,590.6 759.4,594.8 747.3,592.7"/>
<polygon points="767.5,594.5 779.6,596.2 776.9,599.7 789.4,596.8 778.1,590.6 779.8,594.8 767.7,593.1"/>
<polygon points="787.9,594.7 800.1,596.1 797.4,599.7 809.9,596.6 798.5,590.6 800.2,594.8 788.1,593.3"/>
<polygon points="808.4,594.8 820.5,596.1 817.9,599.8 830.3,596.4 818.9,590.6 820.7,594.7 808.5,593.5"/>
<polygon points="828.8,595.0 841.0,596.1 838.5,599.8 850.8,596.3 839.3,590.6 841.1,594.7 829.0,593.6"/>
<polygon points="849.3,595.2 861.4,596.1 859.0,599.8 871.3,596.1 859.6,590.6 861.5,594.7 849.4,593.8"/>
<polygon points="869.7,595.2 881.9,596.1 879.4,599.8 891.7,596.1 880.1,590.6 882.0,594.7 869.8,593.8"/>
<polygon points="890.2,595.4 902.4,596.1 900.0,599.8 912.2,595.9 900.4,590.7 902.4,594.7 890.3,594.0"/>
<polygon points="910.6,595.6 922.8,596.0 920.5,599.9 932.6,595.7 920.8,590.7 922.9,594.6 910.7,594.2"/>
<polygon points="744.5,611.9 755.7,611.9 753.5,615.8 765.5,611.2 753.5,606.6 755.7,610.5 744.5,610.5"/>
<polygon points="765.7,612.4 776.8,611.9 774.8,615.9 786.6,610.7 774.4,606.7 776.8,610.5 765.6,611.1"/>
<polygon points="786.9,613.4 798.0,611.8 796.4,616.0 807.6,609.7 795.1,606.9 797.8,610.4 786.7,612.0"/>
<polygon points="808.3,614.6 819.2,611.7 818.0,616.0 828.4,608.5 815.7,607.1 818.8,610.3 808.0,613.2"/>
<polygon points="830.2,616.3 840.3,611.5 840.0,616.0 848.9,606.8 836.1,607.7 839.7,610.3 829.6,615.0"/>
<polygon points="851.8,617.1 861.5,611.5 861.5,615.9 869.6,606.0 856.9,608.0 860.8,610.2 851.1,615.8"/>
<polygon points="873.4,617.8 882.6,611.4 883.0,615.8 890.2,605.2 877.7,608.3 881.8,610.2 872.6,616.6"/>
<polygon points="895.1,618.5 903.7,611.3 904.5,615.7 910.7,604.5 898.6,608.6 902.8,610.2 894.2,617.4"/>
<polygon points="811.6,634.4 821.0,626.7 821.8,631.1 828.1,619.9 815.9,624.0 820.1,625.6 810.7,633.4"/>
<polygon points="832.6,634.8 841.3,626.3 842.5,630.6 847.8,618.9 836.1,624.0 840.4,625.3 831.7,633.8"/>
<polygon points="853.5,635.3 861.3,625.9 862.9,630.1 867.1,618.0 855.8,624.2 860.2,625.0 852.4,634.4"/>
<polygon points="874.2,635.6 880.6,625.3 882.8,629.2 885.2,616.6 875.0,624.3 879.4,624.5 873.0,634.9"/>
<polygon points="896.1,635.9 901.5,624.9 904.0,628.6 905.1,615.8 895.7,624.6 900.2,624.3 894.8,635.3"/>
<polygon points="918.0,636.0 921.2,624.2 924.4,627.4 923.0,614.6 915.5,625.0 919.8,623.9 916.7,635.6"/>
<polygon points="143.9,720.2 140.6,732.0 137.4,728.8 138.6,741.6 146.2,731.3 141.9,732.3 145.2,720.6"/>
<polygon points="145.6,738.7 139.3,749.1 137.1,745.2 134.8,757.9 145.0,750.0 140.5,749.8 146.8,739.4"/>
<polygon points="147.2,756.6 138.2,764.9 137.2,760.5 131.5,772.0 143.4,767.3 139.1,765.9 148.1,757.7"/>
<polygon points="164.9,738.4 160.2,749.6 157.5,746.1 157.1,758.9 166.0,749.7 161.5,750.2 166.2,738.9"/>
<polygon points="122.9,703.7 120.1,715.6 116.8,712.5 118.5,725.2 125.8,714.7 121.4,715.9 124.3,704.0"/>
<polygon points="125.7,719.4 120.6,730.4 117.9,726.8 117.1,739.6 126.3,730.7 121.8,731.0 126.9,719.9"/>
<polygon points="127.8,736.2 121.2,746.4 119.1,742.4 116.4,755.0 126.8,747.4 122.3,747.1 129.0,736.9"/>
<polygon points="129.7,753.7 121.4,762.6 120.0,758.3 115.2,770.2 126.7,764.6 122.4,763.6 130.7,754.7"/>
<polygon points="132.7,773.0 122.0,779.0 122.0,774.5 113.8,784.3 126.5,782.5 122.7,780.2 133.4,774.3"/>
</g>
<path d="M110 585 L226.2 590.0 L206.8 640.0 L190.6 691.5 L178.2 740.0 L166.0 800.0 L156.6 858.6 L146.9 940.0 L139.6 1025.7 L135.9 1084.0 L110 1090Z M1045 585 L926.6 590.0 L946.2 640.0 L962.6 691.5 L975.1 740.0 L987.5 800.0 L997.0 858.6 L1006.9 940.0 L1014.2 1025.7 L1017.9 1084.0 L1045 1090Z" fill="#fff" fill-opacity="0.5"/>
</g>
<text x="123.5" y="666.5" font-size="47" font-weight="bold" fill="#000">(B)</text>
<rect x="117" y="591" width="920" height="491.5" fill="none" stroke="#000" stroke-width="2"/>
<path d="M117 691.5h14.4M1037 691.5h-14.4M117 858.6h14.4M1037 858.6h-14.4M117 1025.6h14.4M1037 1025.6h-14.4M166.7 1082.5v-14.4M293.5 1082.5v-14.4M421.3 1082.5v-14.4M548.9 1082.5v-14.4M680.9 1082.5v-14.4M804.7 1082.5v-14.4M932.2 1082.5v-14.4" stroke="#000" stroke-width="1.4" fill="none"/>
<g font-size="24" fill="#000" text-anchor="middle">
<text x="166.7" y="1120.3">10</text>
<text x="293.5" y="1120.3">20</text>
<text x="421.3" y="1120.3">30</text>
<text x="548.9" y="1120.3">40</text>
<text x="680.9" y="1120.3">50</text>
<text x="804.7" y="1120.3">60</text>
<text x="932.2" y="1120.3">70</text>
<text x="95.5" y="700.1">8</text>
<text x="95.5" y="867.2">4</text>
<text x="95.5" y="1034.2">2</text>
</g>
<rect x="1123.6" y="616.3" width="26.2" height="441.4" fill="url(#cb)" stroke="#000" stroke-width="2"/>
<path d="M1123.6 705.1h26.2M1123.6 793.2h26.2M1123.6 881.3h26.2M1123.6 969.4h26.2" stroke="#000" stroke-width="1.2"/>
<g font-size="24" fill="#000">
<text x="1164" y="625.3">0.9</text>
<text x="1164" y="713.4">0.2</text>
<text x="1164" y="801.5">0.2</text>
<text x="1164" y="889.6">0.1</text>
<text x="1164" y="977.7">0.1</text>
<text x="1164" y="1065.8">0.0</text>
</g>
</svg></body></html>
